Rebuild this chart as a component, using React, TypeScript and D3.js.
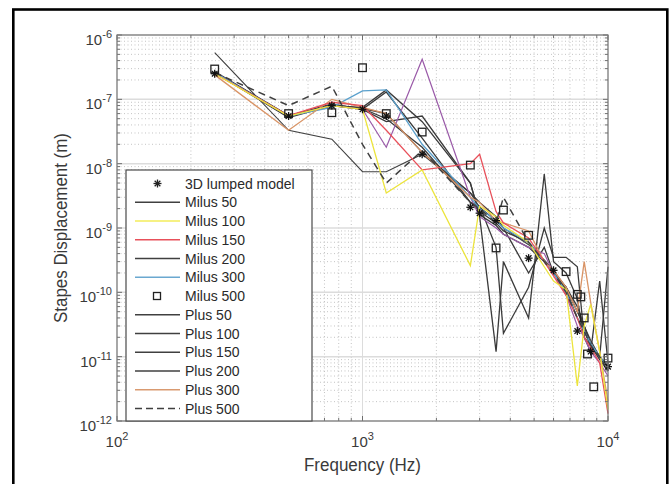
import React from 'react';
import * as d3 from 'd3';

const freqs = [250, 500, 750, 1000, 1250, 1750, 2750, 3000, 3500, 3750, 4750, 5500, 6000, 6750, 7500, 8000, 8500, 9250, 10000];

const milus50 = [5.3e-7, 3.3e-8, 2.4e-8, 7.5e-9, 7.5e-9, 1.4e-8, 3.5e-9, 2.1e-9, 1.3e-9, 1e-9, 5.5e-10, 3.2e-10, 2.2e-10, 1.2e-10, 5e-11, 3e-11, 1.8e-11, 1e-11, 7e-12];
const milus100 = [2.5e-7, 5.5e-8, 8e-8, 7e-8, 3.5e-9, 8e-9, 2.6e-10, 2.2e-9, 1.5e-9, 1.1e-9, 6e-10, 2.5e-10, 1.5e-10, 1.1e-10, 3.5e-12, 3e-11, 6.5e-11, 1.2e-11, 1.5e-12];
const milus150 = [2.5e-7, 5.6e-8, 9e-8, 8e-8, 3.3e-8, 8e-9, 1e-8, 1.4e-8, 1.8e-9, 1.2e-9, 7e-10, 3e-10, 1.8e-10, 9e-11, 4e-11, 2e-11, 1.4e-11, 8e-12, 1.3e-12];
const milus200 = [2.6e-7, 5.2e-8, 8e-8, 7.5e-8, 1.4e-7, 4.5e-8, 5e-9, 1.6e-9, 1.1e-9, 8e-10, 5e-10, 3e-10, 2e-10, 1.1e-10, 4e-11, 2.5e-11, 1.5e-11, 9e-12, 6e-12];
const milus300 = [2.6e-7, 5.5e-8, 7.5e-8, 1.35e-7, 1.4e-7, 2e-8, 3e-9, 2e-9, 1.3e-9, 1e-9, 6e-10, 3e-10, 2e-10, 1e-10, 4e-11, 2.5e-11, 1.6e-11, 1e-11, 7e-12];
const plus50 = [2.7e-7, 5.6e-8, 8.2e-8, 7.2e-8, 5e-8, 1.8e-8, 2.5e-9, 1.8e-9, 1.2e-9, 9e-10, 6e-10, 3e-10, 2e-10, 1.2e-10, 5e-11, 3e-11, 1.6e-11, 1e-11, 6e-12];
const plus100 = [2.6e-7, 5.4e-8, 8e-8, 7e-8, 4.5e-8, 5.5e-8, 5e-9, 1.5e-9, 1.2e-11, 3e-10, 4e-11, 6.9e-9, 3e-10, 2e-10, 8e-11, 2e-11, 1.2e-11, 1.5e-10, 8e-12];
const plus150 = [2.6e-7, 5.5e-8, 8.5e-8, 7e-8, 1.3e-7, 2.5e-8, 2.5e-9, 2.2e-9, 5e-10, 2.3e-11, 1.2e-10, 1e-9, 3.5e-10, 3.5e-10, 2.5e-10, 2e-11, 1.5e-11, 1e-11, 7e-12];
const plus200 = [2.6e-7, 5.6e-8, 8e-8, 7.2e-8, 6e-8, 1.5e-8, 3.5e-9, 2.5e-9, 1.5e-9, 1e-9, 2e-10, 5e-10, 2e-10, 1.2e-10, 6e-11, 3e-11, 1.5e-11, 1e-11, 2.5e-10];
const plus300 = [2.4e-7, 3.3e-8, 1e-7, 7.5e-8, 6e-8, 1.5e-8, 3e-9, 2.5e-9, 1.3e-9, 1.2e-9, 9e-10, 3e-10, 2.2e-10, 1.2e-10, 5e-11, 3e-10, 7e-11, 1.2e-11, 2e-12];
const plus500 = [2.6e-7, 8e-8, 1.6e-7, 2e-8, 5e-9, 1.6e-8, 2.5e-9, 2e-9, 1.2e-9, 3e-9, 6e-10, 3e-10, 2e-10, 1e-10, 4e-11, 2.5e-11, 1.5e-11, 1e-11, 7e-12];
const extraPurple = [2.6e-7, 5.5e-8, 8e-8, 7e-8, 1.8e-8, 4.2e-7, 3e-9, 1.5e-9, 1e-9, 8e-10, 5e-10, 4e-10, 2e-10, 9e-11, 3e-11, 2e-11, 1.2e-11, 8e-12, 5e-12];

const lumpedFreqs = [250, 500, 750, 1000, 1250, 1750, 2750, 3000, 3500, 4750, 6000, 7500, 8500, 10000];
const lumpedValues = [2.5e-7, 5.5e-8, 8e-8, 7e-8, 5.5e-8, 1.4e-8, 2.1e-9, 1.7e-9, 1.3e-9, 3.4e-10, 2.2e-10, 2.5e-11, 1.2e-11, 7e-12];

const milus500Freqs = [250, 500, 750, 1000, 1250, 1750, 2750, 3500, 3750, 4750, 6750, 7500, 7750, 8000, 8250, 8750, 10000];
const milus500Values = [2.96e-7, 6e-8, 6.2e-8, 3.1e-7, 6e-8, 3.1e-8, 9.5e-9, 4.9e-10, 1.9e-9, 7.7e-10, 2.1e-10, 9.3e-11, 8.5e-11, 4e-11, 1.1e-11, 3.4e-12, 9.5e-12];

const xTickExponents = ['2', '3', '4'];
const yTickExponents = ['-6', '-7', '-8', '-9', '-10', '-11', '-12'];

const legendLabels = ['3D lumped model', 'Milus 50', 'Milus 100', 'Milus 150', 'Milus 200', 'Milus 300', 'Milus 500', 'Plus 50', 'Plus 100', 'Plus 150', 'Plus 200', 'Plus 300', 'Plus 500'];

const DARK = '#3a3a3a';

type Series = { values: number[]; color: string; width: number; dash?: string };

const lineSeries: Series[] = [
  { values: milus50, color: '#404040', width: 1.1 },
  { values: plus50, color: DARK, width: 1.3 },
  { values: milus200, color: DARK, width: 1.3 },
  { values: plus150, color: DARK, width: 1.3 },
  { values: plus200, color: DARK, width: 1.3 },
  { values: plus100, color: DARK, width: 1.3 },
  { values: extraPurple, color: '#9a5aa8', width: 1.2 },
  { values: milus300, color: '#5aa0cc', width: 1.3 },
  { values: plus300, color: '#d99466', width: 1.3 },
  { values: milus150, color: '#e8505a', width: 1.3 },
  { values: milus100, color: '#ece43c', width: 1.3 },
  { values: plus500, color: '#404040', width: 1.5, dash: '7,5' },
];

const legendStyles: { kind: 'star' | 'square' | 'line'; color: string; dash?: string }[] = [
  { kind: 'star', color: '#222' },
  { kind: 'line', color: '#404040' },
  { kind: 'line', color: '#f3ec5a' },
  { kind: 'line', color: '#e8505a' },
  { kind: 'line', color: '#404040' },
  { kind: 'line', color: '#6aa8d0' },
  { kind: 'square', color: '#222' },
  { kind: 'line', color: '#404040' },
  { kind: 'line', color: '#404040' },
  { kind: 'line', color: '#404040' },
  { kind: 'line', color: '#404040' },
  { kind: 'line', color: '#d99a70' },
  { kind: 'line', color: '#404040', dash: '7,4' },
];

const PL = 117, PR = 608, PT = 35, PB = 421;

function Star({ cx, cy, r, color }: { cx: number; cy: number; r: number; color: string }) {
  const d = r * 0.7071;
  return (
    <g stroke={color} strokeWidth={1.3}>
      <line x1={cx - r} y1={cy} x2={cx + r} y2={cy} />
      <line x1={cx} y1={cy - r} x2={cx} y2={cy + r} />
      <line x1={cx - d} y1={cy - d} x2={cx + d} y2={cy + d} />
      <line x1={cx - d} y1={cy + d} x2={cx + d} y2={cy - d} />
    </g>
  );
}

export default function App() {
  const x = d3.scaleLog().domain([100, 10000]).range([PL, PR]);
  const y = d3.scaleLog().domain([1e-12, 1e-6]).range([PB, PT]);
  const isMajor = (t: number) => Math.abs(Math.log10(t) - Math.round(Math.log10(t))) < 1e-6;
  const xt = x.ticks();
  const yt = y.ticks();
  const line = d3.line<[number, number]>().x(d => x(d[0])).y(d => y(d[1]));
  const font = 'Liberation Sans, Arial, Helvetica, sans-serif';
  const legendX = 126, legendY = 170, legendW = 186, legendH = PB - 170;
  const rowY = (i: number) => 183.5 + i * 18.75;

  return (
    <svg width={669} height={484} style={{ position: 'absolute', left: 0, top: 0, background: '#fff' }} fontFamily={font}>
      <rect x={0} y={0} width={669} height={484} fill="#fff" />
      {/* outer frame */}
      <rect x={13.3} y={9.5} width={654} height={520} fill="none" stroke="#000" strokeWidth={2.6} />
      {/* grid */}
      <g>
        {xt.filter(t => !isMajor(t)).map((t, i) => (
          <line key={'xm' + i} x1={x(t)} x2={x(t)} y1={PT} y2={PB} stroke="#bdbdbd" strokeWidth={0.9} strokeDasharray="1,2.5" />
        ))}
        {yt.filter(t => !isMajor(t)).map((t, i) => (
          <line key={'ym' + i} x1={PL} x2={PR} y1={y(t)} y2={y(t)} stroke="#bdbdbd" strokeWidth={0.9} strokeDasharray="1,2.5" />
        ))}
        {xt.filter(t => isMajor(t)).map((t, i) => (
          <line key={'xM' + i} x1={x(t)} x2={x(t)} y1={PT} y2={PB} stroke="#dcdcdc" strokeWidth={1} />
        ))}
        {yt.filter(t => isMajor(t)).map((t, i) => (
          <line key={'yM' + i} x1={PL} x2={PR} y1={y(t)} y2={y(t)} stroke="#dcdcdc" strokeWidth={1.5} />
        ))}
      </g>
      {/* data lines */}
      <g fill="none" strokeLinejoin="miter">
        {lineSeries.map((s, i) => (
          <path key={'s' + i} d={line(freqs.map((f, j) => [f, s.values[j]]) as [number, number][]) || ''} stroke={s.color} strokeWidth={s.width} strokeDasharray={s.dash} />
        ))}
      </g>
      {/* markers */}
      <g>
        {milus500Freqs.map((f, i) => (
          <rect key={'sq' + i} x={x(f) - 3.8} y={y(milus500Values[i]) - 3.8} width={7.6} height={7.6} fill="none" stroke="#222" strokeWidth={1.3} />
        ))}
        {lumpedFreqs.map((f, i) => (
          <Star key={'st' + i} cx={x(f)} cy={y(lumpedValues[i])} r={4} color="#111" />
        ))}
      </g>
      {/* axes box and ticks */}
      <g stroke="#6e6e6e" strokeWidth={1}>
        {xt.map((t, i) => {
          const L = isMajor(t) ? 5 : 3;
          return (
            <g key={'xt' + i}>
              <line x1={x(t)} x2={x(t)} y1={PB} y2={PB - L} />
              <line x1={x(t)} x2={x(t)} y1={PT} y2={PT + L} />
            </g>
          );
        })}
        {yt.map((t, i) => {
          const L = isMajor(t) ? 5 : 3;
          return (
            <g key={'yt' + i}>
              <line x1={PL} x2={PL + L} y1={y(t)} y2={y(t)} />
              <line x1={PR} x2={PR - L} y1={y(t)} y2={y(t)} />
            </g>
          );
        })}
        <rect x={PL} y={PT} width={PR - PL} height={PB - PT} fill="none" stroke="#7a7a7a" strokeWidth={1.2} />
      </g>
      {/* tick labels */}
      <g fill="#3a3a3a">
        {xTickExponents.map((e, i) => {
          const t = Math.pow(10, Number(e));
          return (
            <text key={'xl' + i} x={x(t)} y={447} textAnchor="middle" fontSize={15}>
              10<tspan dy={-7} fontSize={11}>{e}</tspan>
            </text>
          );
        })}
        {yTickExponents.map((e, i) => {
          const t = Math.pow(10, Number(e));
          return (
            <text key={'yl' + i} x={PL - 5} y={y(t) + 10} textAnchor="end" fontSize={15}>
              10<tspan dy={-7} fontSize={11}>{e}</tspan>
            </text>
          );
        })}
      </g>
      {/* axis labels */}
      <text x={362.5} y={471} textAnchor="middle" fontSize={18} fill="#3a3a3a" textLength={117} lengthAdjust="spacingAndGlyphs">Frequency (Hz)</text>
      <text transform="translate(67,228) rotate(-90)" textAnchor="middle" fontSize={17.5} fill="#3a3a3a" textLength={190} lengthAdjust="spacingAndGlyphs">Stapes Displacement (m)</text>
      {/* legend */}
      <g>
        <rect x={legendX} y={legendY} width={legendW} height={legendH} fill="#fff" stroke="#4a4a4a" strokeWidth={1.2} />
        {legendLabels.map((lab, i) => {
          const st = legendStyles[i];
          const cy = rowY(i);
          return (
            <g key={'lg' + i}>
              {st.kind === 'line' && (
                <line x1={135} x2={180} y1={cy} y2={cy} stroke={st.color} strokeWidth={1.6} strokeDasharray={st.dash} />
              )}
              {st.kind === 'star' && <Star cx={157.5} cy={cy} r={4} color={st.color} />}
              {st.kind === 'square' && (
                <rect x={153.5} y={cy - 3.5} width={7} height={7} fill="none" stroke={st.color} strokeWidth={1.3} />
              )}
              <text x={185} y={cy + 5} fontSize={14} fill="#2a2a2a">{lab}</text>
            </g>
          );
        })}
      </g>
    </svg>
  );
}
